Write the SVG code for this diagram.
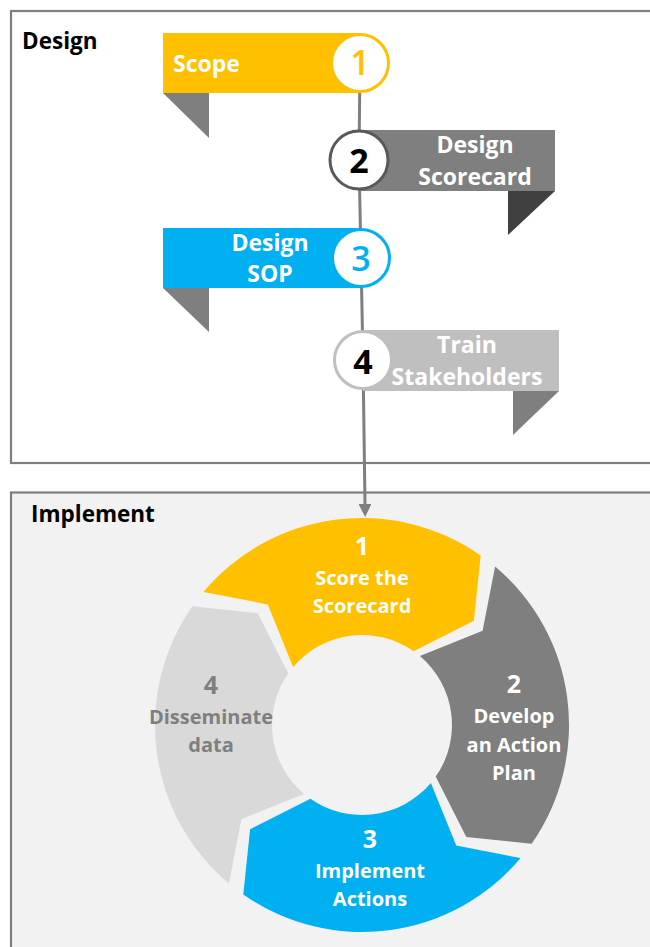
<svg xmlns="http://www.w3.org/2000/svg" width="650" height="947" viewBox="0 0 650 947">
<defs>
<style>
.box{stroke:#7f7f7f;stroke-width:2.2}
.hdr{font-family:"Open Sans","Liberation Sans",sans-serif;font-weight:700;font-size:22.5px;fill:#000}
.bt{font-family:"Open Sans","Liberation Sans",sans-serif;font-weight:700;font-size:23px;fill:#fff;text-anchor:middle}
.num{font-family:"Open Sans","Liberation Sans",sans-serif;font-weight:700;font-size:34px;text-anchor:middle}
.lite{font-weight:600}
.ct{font-family:"Open Sans","Liberation Sans",sans-serif;font-weight:700;font-size:20px;fill:#fff;text-anchor:middle}
.cn{font-size:25px}
.circ{fill:#fff;stroke-width:3}
.conn{fill:none;stroke:#7f7f7f;stroke-width:3}
</style>
<marker id="arr" markerUnits="userSpaceOnUse" viewBox="0 0 13 13" markerWidth="13" markerHeight="13" refX="0" refY="6.5" orient="auto">
<path d="M0,0 L13,6.5 L0,13 Z" fill="#7f7f7f"/>
</marker>
<path id="seg" d="M 203.4 591.9 A 207 207 0 0 1 480.7 555.4 L 473.9 620.7 L 413.6 651.3 A 90 90 0 0 0 293.1 667.1 L 267.8 604.4 Z"/>
</defs>
<rect width="650" height="947" fill="#fff"/>
<g id="design-panel">
<rect class="box" x="11" y="11" width="660" height="452" fill="#fff"/>
<text class="hdr" x="22" y="49">Design</text>
</g>
<g id="implement-panel">
<rect class="box" x="11" y="492.5" width="660" height="480" fill="#f2f2f2"/>
<text class="hdr" x="31" y="522">Implement</text>
</g>
<g id="connectors">
<polyline class="conn" points="360,63 359,160 361,258 363,360"/>
<path class="conn" d="M363,360 L365,504" marker-end="url(#arr)"/>
</g>
<g id="step1-scope">
<rect x="163" y="33" width="197" height="60" fill="#ffc000"/>
<polygon points="163,93 209,93 209,138" fill="#7f7f7f"/>
<circle class="circ" cx="360" cy="63" r="28.5" stroke="#ffc000"/>
<text class="num lite" x="360" y="75" fill="#ffc000">1</text>
<text class="bt" x="173" y="72" style="text-anchor:start">Scope</text>
</g>
<g id="step2-design-scorecard">
<rect x="359" y="130" width="196" height="61" fill="#7f7f7f"/>
<polygon points="508,191 555,191 508,235" fill="#404040"/>
<circle class="circ" cx="359" cy="160" r="29" stroke="#595959"/>
<text class="num" x="359" y="173" fill="#000">2</text>
<text class="bt" x="475" y="153">Design</text>
<text class="bt" x="475" y="185">Scorecard</text>
</g>
<g id="step3-design-sop">
<rect x="163" y="228" width="198" height="60" fill="#00b0f0"/>
<polygon points="163,288 209,288 209,332" fill="#7f7f7f"/>
<circle class="circ" cx="361" cy="258" r="28.5" stroke="#00b0f0"/>
<text class="num lite" x="361" y="271" fill="#00b0f0">3</text>
<text class="bt" x="270" y="251">Design</text>
<text class="bt" x="270" y="282">SOP</text>
</g>
<g id="step4-train">
<rect x="363" y="330" width="196" height="61" fill="#bfbfbf"/>
<polygon points="513,391 559,391 513,435" fill="#7f7f7f"/>
<circle class="circ" cx="363" cy="360" r="28.5" stroke="#bfbfbf"/>
<text class="num" x="363" y="374" fill="#000">4</text>
<text class="bt" x="467" y="353">Train</text>
<text class="bt" x="467" y="385">Stakeholders</text>
</g>
<g id="cycle1-score">
<use href="#seg" fill="#ffc000"/>
<text class="ct cn" x="362" y="555">1</text>
<text class="ct" x="362" y="585">Score the</text>
<text class="ct" x="362" y="613">Scorecard</text>
</g>
<g id="cycle2-action-plan">
<use href="#seg" fill="#7f7f7f" transform="rotate(90 362 725)"/>
<text class="ct cn" x="514" y="693">2</text>
<text class="ct" x="514" y="723">Develop</text>
<text class="ct" x="514" y="752">an Action</text>
<text class="ct" x="514" y="780">Plan</text>
</g>
<g id="cycle3-implement">
<use href="#seg" fill="#00b0f0" transform="rotate(180 362 725)"/>
<text class="ct cn" x="370" y="848">3</text>
<text class="ct" x="370" y="878">Implement</text>
<text class="ct" x="370" y="906">Actions</text>
</g>
<g id="cycle4-disseminate">
<use href="#seg" fill="#d9d9d9" transform="rotate(270 362 725)"/>
<text class="ct cn" x="211" y="694" style="fill:#7f7f7f">4</text>
<text class="ct" x="211" y="724" style="fill:#7f7f7f">Disseminate</text>
<text class="ct" x="211" y="752" style="fill:#7f7f7f">data</text>
</g>
</svg>
